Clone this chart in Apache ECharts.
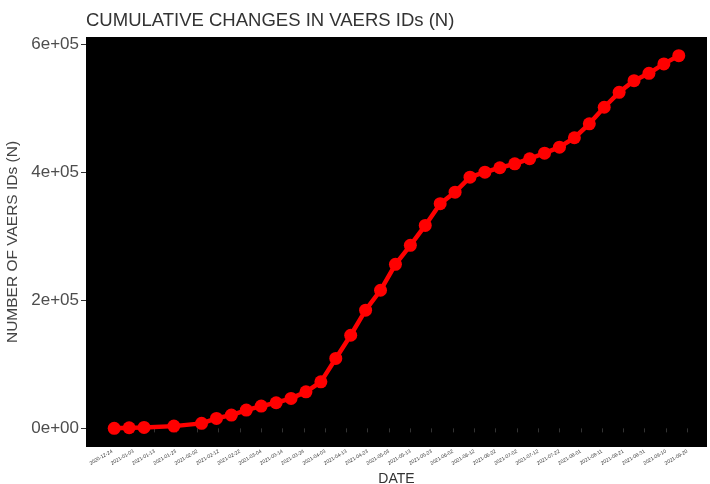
<!DOCTYPE html>
<html>
<head>
<meta charset="utf-8">
<script src="https://cdn.jsdelivr.net/npm/echarts@6/dist/echarts.min.js"></script>
<style>
  html, body { margin: 0; padding: 0; background: #ffffff; }
  #chart { width: 710px; height: 484px; }
</style>
</head>
<body>
<div id="chart"></div>
<script>
// ---- data ----
const dates = [
  '2020-12-25', '2021-01-01', '2021-01-08', '2021-01-22', '2021-02-04',
  '2021-02-11', '2021-02-18', '2021-02-25', '2021-03-04', '2021-03-11',
  '2021-03-18', '2021-03-25', '2021-04-01', '2021-04-08', '2021-04-15',
  '2021-04-22', '2021-04-29', '2021-05-06', '2021-05-13', '2021-05-20',
  '2021-05-27', '2021-06-03', '2021-06-10', '2021-06-17', '2021-06-24',
  '2021-07-01', '2021-07-08', '2021-07-15', '2021-07-22', '2021-07-29',
  '2021-08-05', '2021-08-12', '2021-08-19', '2021-08-26', '2021-09-02',
  '2021-09-09', '2021-09-16'
];
const vaersIds = [
  0, 1000, 1500, 3500, 7800,
  15600, 20800, 28600, 34800, 40000,
  46800, 57100, 72700, 109300, 145600,
  184700, 215900, 256500, 286100, 317300,
  351200, 369300, 392700, 400500, 407400,
  413600, 421500, 430200, 439600, 454300,
  476100, 502000, 525400, 543600, 555100,
  569800, 582700
];
const xTickDates = [
  '2020-12-24', '2021-01-03', '2021-01-13', '2021-01-23', '2021-02-02',
  '2021-02-12', '2021-02-22', '2021-03-04', '2021-03-14', '2021-03-24',
  '2021-04-03', '2021-04-13', '2021-04-23', '2021-05-03', '2021-05-13',
  '2021-05-23', '2021-06-02', '2021-06-12', '2021-06-22', '2021-07-02',
  '2021-07-12', '2021-07-22', '2021-08-01', '2021-08-11', '2021-08-21',
  '2021-08-31', '2021-09-10', '2021-09-20'
];
const yTickValues = [0, 200000, 400000, 600000];

const titleText = 'CUMULATIVE CHANGES IN VAERS IDs (N)';
const xTitle = 'DATE';
const yTitle = 'NUMBER OF VAERS IDs (N)';

// ---- helpers ----
const toMs = s => Date.parse(s + 'T00:00:00Z');
const pad2 = n => String(n).padStart(2, '0');
const fmtDate = v => {
  const d = new Date(v);
  return d.getUTCFullYear() + '-' + pad2(d.getUTCMonth() + 1) + '-' + pad2(d.getUTCDate());
};
const fmtSci = v => {
  if (v === 0) return '0e+00';
  const e = Math.floor(Math.log10(Math.abs(v)));
  const m = Math.round(v / Math.pow(10, e));
  return m + 'e+' + pad2(e);
};

const xs = dates.map(toMs);
const xLo = Math.min(...xs), xHi = Math.max(...xs);
const xPad = 0.05 * (xHi - xLo);
const yLo = Math.min(...vaersIds), yHi = Math.max(...vaersIds);
const yPad = 0.05 * (yHi - yLo);

const seriesData = xs.map((x, i) => [x, vaersIds[i]]);
const font = '"Liberation Sans", Arial, Helvetica, sans-serif';

const chart = echarts.init(document.getElementById('chart'), null, { renderer: 'canvas' });
chart.setOption({
  animation: false,
  backgroundColor: '#ffffff',
  textStyle: { fontFamily: font },
  title: {
    text: titleText,
    left: 81,
    top: 6,
    textStyle: { fontFamily: font, fontSize: 18.5, fontWeight: 'normal', color: '#333333' }
  },
  grid: {
    left: 86,
    right: 3,
    top: 37,
    bottom: 37,
    containLabel: false,
    outerBoundsMode: 'none',
    show: true,
    backgroundColor: '#000000',
    borderWidth: 0
  },
  xAxis: {
    type: 'value',
    min: xLo - xPad,
    max: xHi + xPad,
    name: xTitle,
    nameLocation: 'middle',
    nameGap: 24,
    nameTextStyle: { fontFamily: font, fontSize: 14, color: '#333333' },
    axisLine: { show: false },
    splitLine: { show: false },
    axisTick: {
      show: true,
      length: 4,
      customValues: xTickDates.map(toMs),
      lineStyle: { color: '#333333', width: 1 }
    },
    axisLabel: {
      customValues: xTickDates.map(toMs),
      formatter: fmtDate,
      rotate: 30,
      fontSize: 5,
      margin: 4,
      color: '#333333',
      fontFamily: font
    }
  },
  yAxis: {
    type: 'value',
    min: yLo - yPad,
    max: yHi + yPad,
    name: yTitle,
    nameLocation: 'middle',
    nameRotate: 90,
    nameGap: 55,
    nameTextStyle: { fontFamily: font, fontSize: 15.5, color: '#444444' },
    axisLine: { show: false },
    splitLine: { show: false },
    axisTick: {
      show: true,
      length: 5,
      customValues: yTickValues,
      lineStyle: { color: '#333333', width: 1 }
    },
    axisLabel: {
      customValues: yTickValues,
      formatter: fmtSci,
      fontSize: 17,
      margin: 7,
      color: '#4d4d4d',
      fontFamily: font
    }
  },
  series: [{
    type: 'line',
    data: seriesData,
    symbol: 'circle',
    symbolSize: 13,
    lineStyle: { color: '#ff0000', width: 4.5 },
    itemStyle: { color: '#ff0000', borderWidth: 0 },
    emphasis: { disabled: true }
  }]
});
</script>
</body>
</html>
